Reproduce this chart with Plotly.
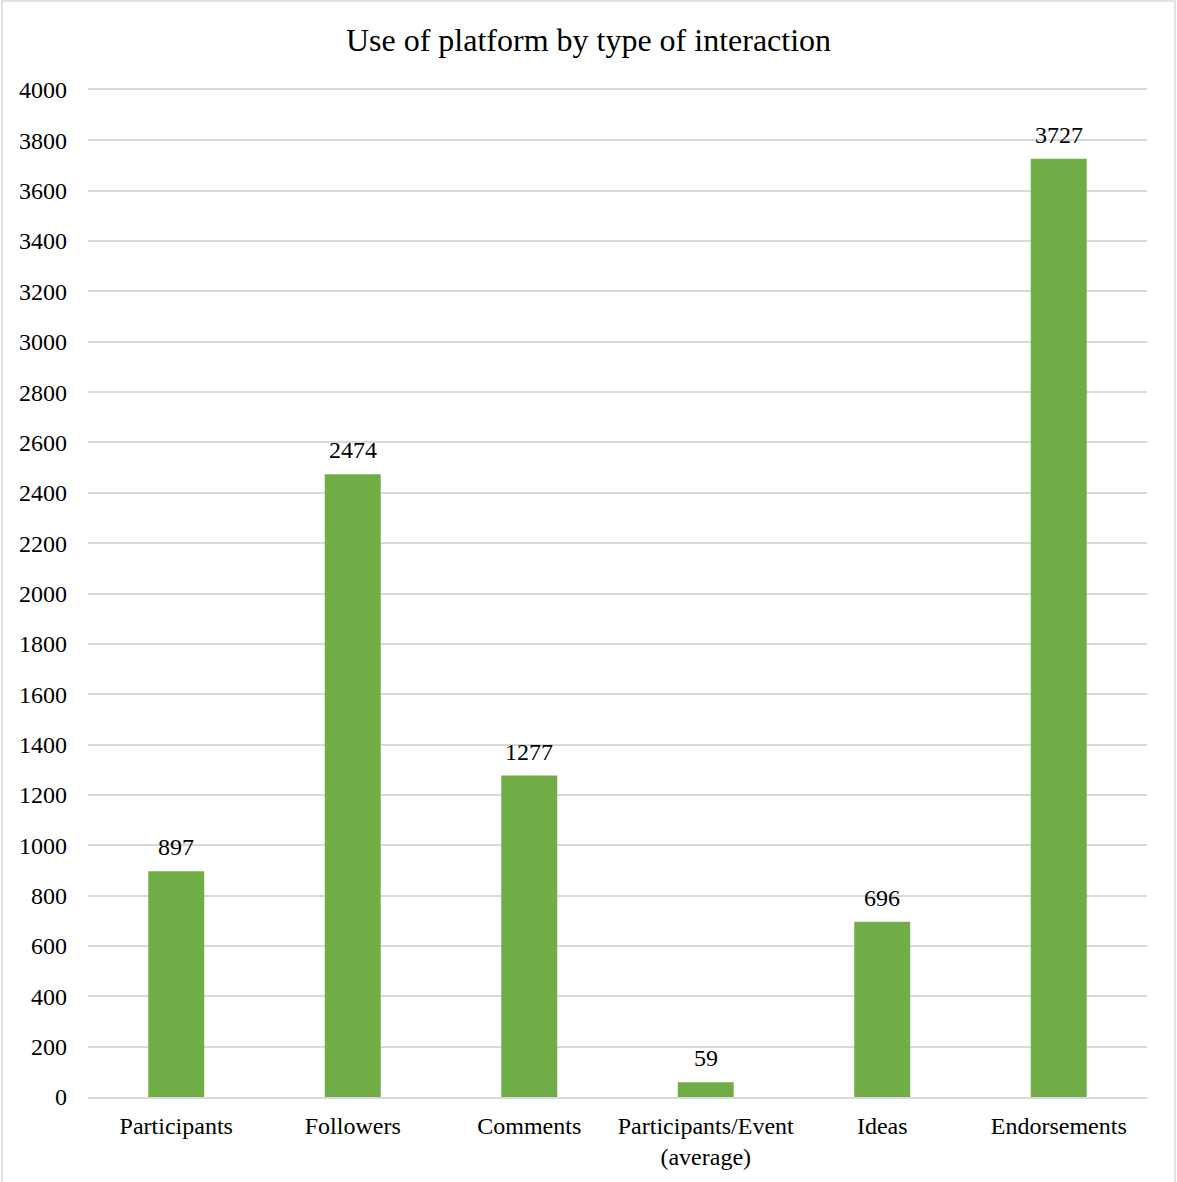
import plotly.graph_objects as go

categories = ["Participants", "Followers", "Comments", "Participants/Event<br>(average)", "Ideas", "Endorsements"]
values = [897, 2474, 1277, 59, 696, 3727]
y_ticks = list(range(0, 4001, 200))

FONT = "Liberation Serif, Times New Roman, serif"
W, H = 1177, 1182
L, R, T, B = 88, 30, 90, 85
pw, ph = W - L - R, H - T - B

fig = go.Figure(go.Bar(
    x=categories, y=values,
    marker=dict(color="#70AD47", line=dict(width=0)),
    cliponaxis=False,
))

for c, v in zip(categories, values):
    fig.add_annotation(x=c, y=v, text=str(v), showarrow=False, yanchor="bottom", yshift=9,
                       font=dict(family=FONT, size=24, color="#000000"))

fig.update_layout(
    width=W, height=H,
    margin=dict(l=L, r=R, t=T, b=B),
    paper_bgcolor="white", plot_bgcolor="white",
    bargap=0.683,
    showlegend=False,
    title=dict(text="Use of platform by type of interaction", x=0.5, xref="container", xanchor="center",
               y=1 - 40 / H, yanchor="middle",
               font=dict(family=FONT, size=32, color="#000000")),
    font=dict(family=FONT, size=24, color="#000000"),
    xaxis=dict(showgrid=False, showline=True, mirror=True, linecolor="#d9d9d9", linewidth=1.5,
               tickfont=dict(family=FONT, size=24, color="#000000"), ticks="", ticklabelstandoff=6),
    yaxis=dict(range=[0, 4000], tickvals=y_ticks, showgrid=True, gridcolor="#d9d9d9", gridwidth=1.5,
               zeroline=False, showline=False, ticks="", ticklabelstandoff=20,
               tickfont=dict(family=FONT, size=24, color="#000000")),
    shapes=[dict(type="rect", xref="paper", yref="paper",
                 x0=(2 - L) / pw, x1=(1175 - L) / pw,
                 y0=(H - B - 1195) / ph, y1=(H - B - 1) / ph,
                 line=dict(color="#d9d9d9", width=1.5), fillcolor="rgba(0,0,0,0)", layer="below")],
)

fig.write_html("out.html")
